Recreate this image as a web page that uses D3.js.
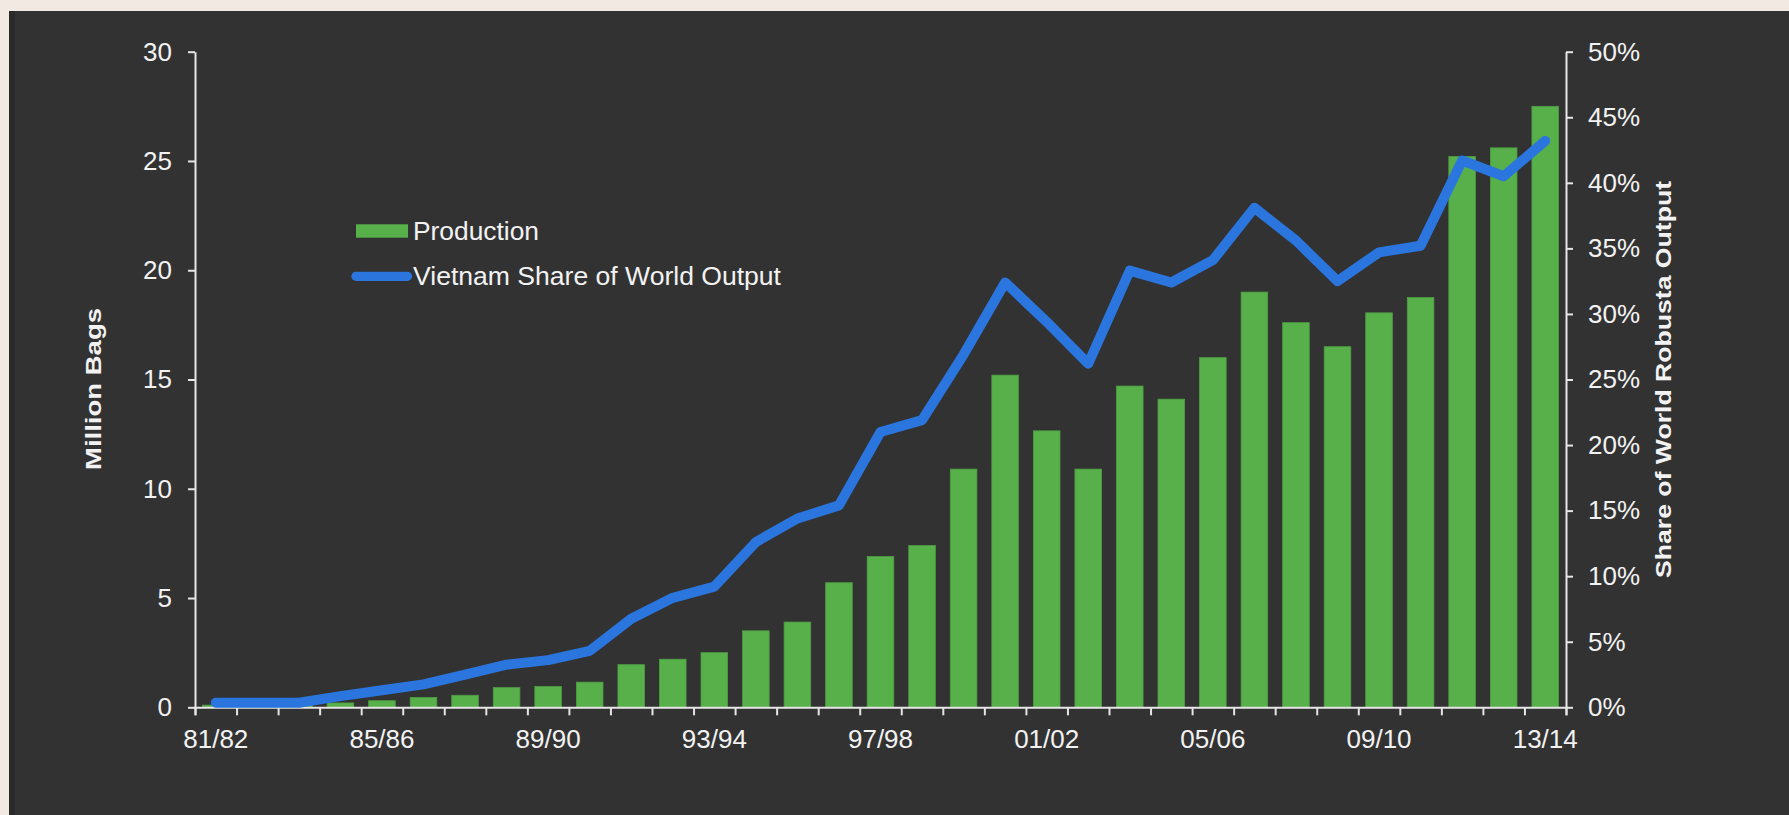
<!DOCTYPE html>
<html>
<head>
<meta charset="utf-8">
<script src="https://cdn.jsdelivr.net/npm/d3@7/dist/d3.min.js"></script>
<style>
  html, body { margin: 0; padding: 0; background: #f2e9e3; }
  svg { display: block; }
  text { font-family: "Liberation Sans", Arial, Helvetica, sans-serif; fill: #f2f2f2; }
</style>
</head>
<body>
<svg id="chart" width="1789" height="815"></svg>
<script>
// ---- data ----
const seasons = ["81/82","82/83","83/84","84/85","85/86","86/87","87/88","88/89","89/90","90/91",
  "91/92","92/93","93/94","94/95","95/96","96/97","97/98","98/99","99/00","00/01",
  "01/02","02/03","03/04","04/05","05/06","06/07","07/08","08/09","09/10","10/11",
  "11/12","12/13","13/14"];
const production = [0.1,0.1,0.15,0.2,0.3,0.45,0.55,0.9,0.95,1.15,
  1.95,2.2,2.5,3.5,3.9,5.7,6.9,7.4,10.9,15.2,
  12.65,10.9,14.7,14.1,16.0,19.0,17.6,16.5,18.05,18.75,
  25.2,25.6,27.5];
const share = [0.0035,0.0035,0.0035,0.0085,0.013,0.0175,0.025,0.0325,0.036,0.043,
  0.0675,0.0835,0.092,0.126,0.144,0.154,0.210,0.219,0.269,0.324,
  0.294,0.262,0.333,0.324,0.341,0.381,0.356,0.325,0.347,0.352,
  0.417,0.405,0.432];
const leftTicks = [0,5,10,15,20,25,30];
const rightTicks = [0,0.05,0.10,0.15,0.20,0.25,0.30,0.35,0.40,0.45,0.50];
const xLabels = ["81/82","85/86","89/90","93/94","97/98","01/02","05/06","09/10","13/14"];
const seriesNames = ["Production","Vietnam Share of World Output"];
const leftTitle = "Million Bags";
const rightTitle = "Share of World Robusta Output";

// ---- layout ----
const W = 1789, H = 815;
const plot = {left: 195, right: 1566, top: 51.7, bottom: 707.3};
const green = "#58b04b", blue = "#2a76de", axisCol = "#e6e6e6";

const svg = d3.select("#chart");
svg.append("rect").attr("width", W).attr("height", H).attr("fill", "#f2e9e3");
svg.append("rect").attr("x", 9).attr("y", 11).attr("width", W - 9).attr("height", H - 11).attr("fill", "#323232");
svg.append("rect").attr("x", 9).attr("y", 11).attr("width", 6).attr("height", H - 11).attr("fill", "#2a2a2a");

const x = d3.scaleBand().domain(seasons).range([plot.left, plot.right]).paddingInner(0.36).paddingOuter(0.18);
const xIdx = d3.scaleLinear().domain([0, seasons.length]).range([plot.left, plot.right]);
const yL = d3.scaleLinear().domain([0, 30]).range([plot.bottom, plot.top]);
const yR = d3.scaleLinear().domain([0, 0.5]).range([plot.bottom, plot.top]);

// bars
svg.append("g").selectAll("rect").data(seasons).join("rect")
  .attr("x", d => x(d))
  .attr("y", (d, i) => yL(production[i]))
  .attr("width", x.bandwidth())
  .attr("height", (d, i) => yL(0) - yL(production[i]))
  .attr("fill", green)
  .attr("stroke", "#4e9f43").attr("stroke-width", 0.8);

function styleAxis(g) {
  g.selectAll("path.domain").attr("stroke", axisCol).attr("stroke-width", 2);
  g.selectAll(".tick line").attr("stroke", axisCol).attr("stroke-width", 2);
  g.selectAll(".tick text").attr("font-size", 26).attr("fill", "#f2f2f2")
    .attr("font-family", "'Liberation Sans', Arial, sans-serif");
}

// left axis
svg.append("g").attr("transform", `translate(${plot.left},0)`)
  .call(d3.axisLeft(yL).tickValues(leftTicks).tickSize(7).tickSizeOuter(0).tickPadding(16))
  .call(styleAxis);

// right axis
svg.append("g").attr("transform", `translate(${plot.right},0)`)
  .call(d3.axisRight(yR).tickValues(rightTicks).tickFormat(d3.format(".0%")).tickSize(7).tickSizeOuter(0).tickPadding(15))
  .call(styleAxis);

// bottom axis: boundary ticks
svg.append("g").attr("transform", `translate(0,${plot.bottom})`)
  .call(d3.axisBottom(xIdx).tickValues(d3.range(0, seasons.length + 1)).tickFormat("").tickSize(8).tickSizeOuter(8))
  .call(styleAxis);

// bottom axis: labels
const gxl = svg.append("g").attr("transform", `translate(0,${plot.bottom})`)
  .call(d3.axisBottom(x).tickValues(xLabels).tickSize(0).tickPadding(22.5))
  .call(styleAxis);
gxl.select("path.domain").remove();

// line
const line = d3.line().x((d, i) => x(seasons[i]) + x.bandwidth() / 2).y(d => yR(d));
svg.append("path").datum(share)
  .attr("d", line).attr("fill", "none")
  .attr("stroke", blue).attr("stroke-width", 10)
  .attr("stroke-linecap", "round").attr("stroke-linejoin", "round");

// axis titles
svg.append("text")
  .attr("transform", "translate(101,389) rotate(-90)")
  .attr("text-anchor", "middle").attr("font-weight", "bold").attr("font-size", 22)
  .attr("textLength", 162).attr("lengthAdjust", "spacingAndGlyphs")
  .text(leftTitle);
svg.append("text")
  .attr("transform", "translate(1671,379.5) rotate(-90)")
  .attr("text-anchor", "middle").attr("font-weight", "bold").attr("font-size", 22)
  .attr("textLength", 397).attr("lengthAdjust", "spacingAndGlyphs")
  .text(rightTitle);

// legend
const lg = svg.append("g");
lg.append("rect").attr("x", 356).attr("y", 224.3).attr("width", 52).attr("height", 13.4).attr("fill", green);
lg.append("line").attr("x1", 356).attr("x2", 407.5).attr("y1", 276.3).attr("y2", 276.3)
  .attr("stroke", blue).attr("stroke-width", 9.3).attr("stroke-linecap", "round");
lg.selectAll("text").data(seriesNames).join("text")
  .attr("x", 413).attr("y", (d, i) => i === 0 ? 240 : 285)
  .attr("font-size", 26)
  .attr("textLength", (d, i) => i === 0 ? 126 : 368)
  .attr("lengthAdjust", "spacingAndGlyphs")
  .text(d => d);
</script>
</body>
</html>
